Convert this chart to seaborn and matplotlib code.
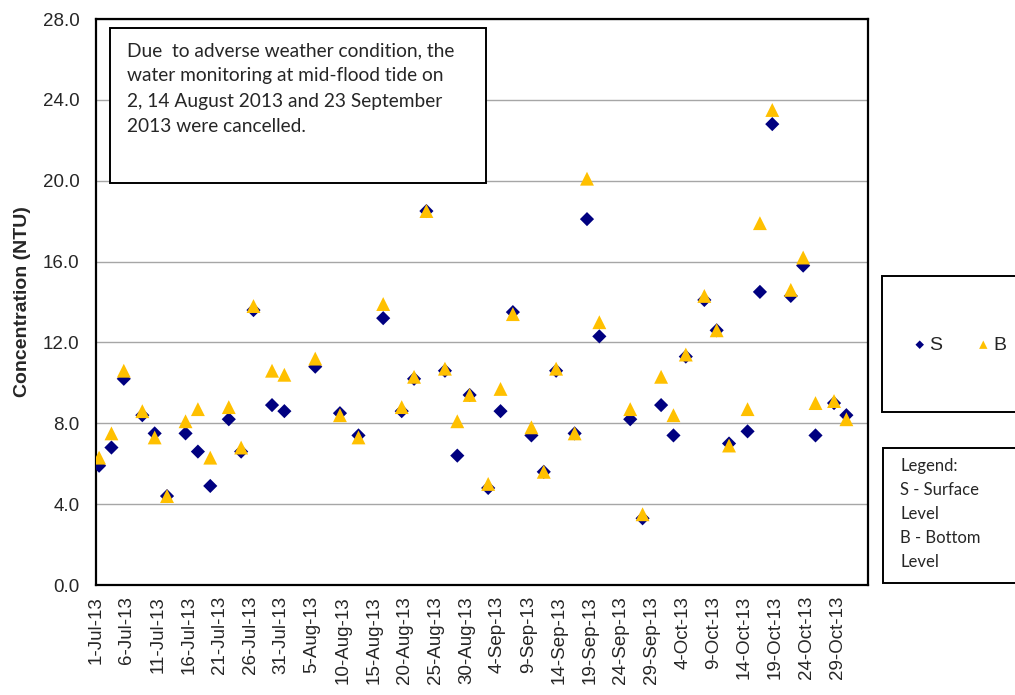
import matplotlib
matplotlib.use("Agg")
import matplotlib.pyplot as plt
import seaborn as sns
import pandas as pd
from matplotlib.patches import Rectangle

# ---------------- data ----------------
dates = ["2013-07-01", "2013-07-03", "2013-07-05", "2013-07-08", "2013-07-10", "2013-07-12",
         "2013-07-15", "2013-07-17", "2013-07-19", "2013-07-22", "2013-07-24", "2013-07-26",
         "2013-07-29", "2013-07-31", "2013-08-05", "2013-08-09", "2013-08-12", "2013-08-16",
         "2013-08-19", "2013-08-21", "2013-08-23", "2013-08-26", "2013-08-28", "2013-08-30",
         "2013-09-02", "2013-09-04", "2013-09-06", "2013-09-09", "2013-09-11", "2013-09-13",
         "2013-09-16", "2013-09-18", "2013-09-20", "2013-09-25", "2013-09-27", "2013-09-30",
         "2013-10-02", "2013-10-04", "2013-10-07", "2013-10-09", "2013-10-11", "2013-10-14",
         "2013-10-16", "2013-10-18", "2013-10-21", "2013-10-23", "2013-10-25", "2013-10-28",
         "2013-10-30"]
surface = [5.9, 6.8, 10.2, 8.4, 7.5, 4.4,
           7.5, 6.6, 4.9, 8.2, 6.6, 13.6,
           8.9, 8.6, 10.8, 8.5, 7.4, 13.2,
           8.6, 10.2, 18.5, 10.6, 6.4, 9.4,
           4.8, 8.6, 13.5, 7.4, 5.6, 10.6,
           7.5, 18.1, 12.3, 8.2, 3.3, 8.9,
           7.4, 11.3, 14.1, 12.6, 7.0, 7.6,
           14.5, 22.8, 14.3, 15.8, 7.4, 9.0,
           8.4]
bottom = [6.3, 7.5, 10.6, 8.6, 7.3, 4.4,
          8.1, 8.7, 6.3, 8.8, 6.8, 13.8,
          10.6, 10.4, 11.2, 8.4, 7.3, 13.9,
          8.8, 10.3, 18.5, 10.7, 8.1, 9.4,
          5.0, 9.7, 13.4, 7.8, 5.6, 10.7,
          7.5, 20.1, 13.0, 8.7, 3.5, 10.3,
          8.4, 11.4, 14.3, 12.6, 6.9, 8.7,
          17.9, 23.5, 14.6, 16.2, 9.0, 9.1,
          8.2]
tick_labels = ["1-Jul-13", "6-Jul-13", "11-Jul-13", "16-Jul-13", "21-Jul-13", "26-Jul-13",
               "31-Jul-13", "5-Aug-13", "10-Aug-13", "15-Aug-13", "20-Aug-13", "25-Aug-13",
               "30-Aug-13", "4-Sep-13", "9-Sep-13", "14-Sep-13", "19-Sep-13", "24-Sep-13",
               "29-Sep-13", "4-Oct-13", "9-Oct-13", "14-Oct-13", "19-Oct-13", "24-Oct-13",
               "29-Oct-13"]
y_ticks = [0.0, 4.0, 8.0, 12.0, 16.0, 20.0, 24.0, 28.0]
note_text = ("Due  to adverse weather condition, the\n"
             "water monitoring at mid-flood tide on\n"
             "2, 14 August 2013 and 23 September\n"
             "2013 were cancelled.")
legend_text = "Legend:\nS - Surface\nLevel\nB - Bottom\nLevel"

# ---------------- style ----------------
sns.set_style("white")
plt.rcParams["font.family"] = ["Liberation Sans", "DejaVu Sans"]

W, H = 1015, 695
fig = plt.figure(figsize=(W / 100, H / 100), dpi=100)
L, R, T, B = 96, 868, 19, 585
ax = fig.add_axes([L / W, 1 - B / H, (R - L) / W, (B - T) / H])

start = pd.Timestamp("2013-07-01")
xs = (pd.to_datetime(dates) - start).days + 0.5
df = pd.DataFrame({"day": xs, "S": surface, "B": bottom})

sns.scatterplot(data=df, x="day", y="S", marker="D", color="#000080", s=52,
                edgecolor="none", ax=ax, label="S", zorder=3)
sns.scatterplot(data=df, x="day", y="B", marker="^", color="#FFC000", s=100,
                edgecolor="none", ax=ax, label="B", zorder=4)

ax.set_xlim(0, 125)
ax.set_ylim(0, 28)
tick_pos = [(pd.to_datetime(t, format="%d-%b-%y") - start).days for t in tick_labels]
ax.set_xticks(tick_pos)
ax.set_xticklabels(tick_labels, rotation=90, fontsize=13.5)
ax.set_yticks(y_ticks)
ax.set_yticklabels([f"{v:.1f}" for v in y_ticks], fontsize=13.5)
ax.tick_params(axis="x", direction="out", length=5, width=1, color="#999999", pad=3)
ax.tick_params(axis="y", length=0, pad=12)
ax.set_xlabel("")
ax.set_ylabel("Concentration (NTU)", fontsize=14, fontweight="bold", labelpad=8)
ax.grid(axis="y", color="#A6A6A6", linewidth=1.0)
ax.grid(axis="x", visible=False)
for sp in ax.spines.values():
    sp.set_color("black")
    sp.set_linewidth(1.6)
if ax.get_legend() is not None:
    ax.get_legend().remove()

# note box inside plot
fig.patches.append(Rectangle((110 / W, 1 - 183 / H), (486 - 110) / W, (183 - 28) / H,
                             transform=fig.transFigure, facecolor="white",
                             edgecolor="black", linewidth=1.4, zorder=5))
fig.text(127 / W, 1 - 42 / H, note_text, fontsize=13.8, family=["Lato", "DejaVu Sans"],
         va="top", ha="left", linespacing=1.6, zorder=6)

# legend box
fig.patches.append(Rectangle((882 / W, 1 - 412 / H), 140 / W, (412 - 276) / H,
                             transform=fig.transFigure, facecolor="white",
                             edgecolor="black", linewidth=1.4, zorder=5))
handles, labels = ax.get_legend_handles_labels()
fig.legend(handles, labels, loc="center", bbox_to_anchor=(958 / W, 1 - 345 / H),
           ncol=2, frameon=False, fontsize=14, handletextpad=0.0, columnspacing=1.6,
           handlelength=1.0, markerscale=0.6)

# text legend box
fig.patches.append(Rectangle((883 / W, 1 - 583 / H), 140 / W, (583 - 448) / H,
                             transform=fig.transFigure, facecolor="white",
                             edgecolor="black", linewidth=1.4, zorder=5))
fig.text(900 / W, 1 - 458 / H, legend_text, fontsize=12, family=["Lato", "DejaVu Sans"],
         va="top", ha="left", linespacing=1.62, zorder=6)

fig.savefig("out.png", dpi=100)
